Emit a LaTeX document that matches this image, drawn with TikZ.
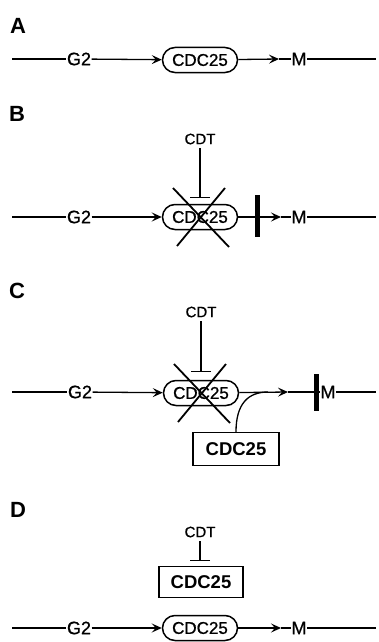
\documentclass[tikz,border=0pt]{standalone}
\usepackage{fontspec}
\setmainfont{Liberation Sans}
\newfontfamily\medf[FakeBold=0.8]{Liberation Sans}
\usetikzlibrary{arrows.meta,calc}
\begin{document}
\begin{tikzpicture}[x=1pt,y=-1pt,
  lbl/.style={font=\fontsize{22}{22}\selectfont\bfseries, inner sep=0pt},
  txt/.style={font=\medf\fontsize{18}{18}\selectfont, inner sep=0.5pt},
  cdt/.style={font=\medf\fontsize{15}{15}\selectfont, inner sep=1pt},
  pill/.style={draw, line width=1.5pt, rounded corners=12.5pt, minimum width=75pt, minimum height=25pt, font=\medf\fontsize{17}{17}\selectfont, inner sep=0pt},
  cbox/.style={draw, line width=1.3pt, minimum width=86pt, minimum height=33pt, font=\fontsize{18.5}{18.5}\selectfont\bfseries, inner sep=0pt},
  ln/.style={line width=1.3pt},
  arr/.style={line width=1.3pt, -{Stealth[length=10pt,width=9pt,inset=4pt]}},
  tb/.style={line width=1.2pt, -{Bar[width=20pt,line width=1.5pt]}},
  xl/.style={line width=1.8pt},
  blk/.style={line width=5pt}
]
\useasboundingbox (0,0) rectangle (378,642);
% ---------- A ----------
\node[lbl] (la) at (18,26) {A};
\coordinate (a0) at (12,59);
\node[txt] (aG) at (79,59) {G2};
\node[pill] (aP) at (200,60) {CDC25};
\coordinate (aT) at (279,59);
\node[txt] (aM) at (299,59) {M};
\coordinate (aE) at (376,59);
\draw[ln] (a0) -- (aG);
\draw[arr] (aG) -- (aP);
\draw[arr] (aP) -- (aT);
\draw[ln] (aT) -- (aM);
\draw[ln] (aM) -- (aE);
% ---------- B ----------
\node[lbl] (lb) at (17,114) {B};
\node[cdt] (bC) at (200,139) {CDT};
\coordinate (bC0) at (200,148);
\coordinate (bTb) at (200,198);
\coordinate (b0) at (12,217);
\node[txt] (bG) at (79,217) {G2};
\node[pill] (bP) at (200,217) {CDC25};
\coordinate (bT) at (281,217);
\node[txt] (bM) at (299,217) {M};
\coordinate (bE) at (376,217);
\coordinate (bBt) at (257,195);
\coordinate (bBb) at (257,237);
\draw[tb] (bC0) -- (bTb);
\draw[ln] (b0) -- (bG);
\draw[arr] (bG) -- (bP);
\draw[arr] (bP) -- (bT);
\draw[ln] (bT) -- (bM);
\draw[ln] (bM) -- (bE);
\draw[xl] ($(bP.center)+(-27,-29)$) -- ($(bP.center)+(29,30)$);
\draw[xl] ($(bP.center)+(25,-29)$) -- ($(bP.center)+(-23,29)$);
\draw[blk] (bBt) -- (bBb);
% ---------- C ----------
\node[lbl] (lc) at (17,291) {C};
\node[cdt] (cC) at (201,312) {CDT};
\coordinate (cC0) at (201,321);
\coordinate (cTb) at (201,372);
\coordinate (c0) at (12,392);
\node[txt] (cG) at (80,392) {G2};
\node[pill] (cP) at (201,393) {CDC25};
\coordinate (cT) at (288,392);
\coordinate (cJ) at (268,392);
\coordinate (cBt) at (316,374);
\coordinate (cBb) at (316,411);
\node[txt] (cM) at (328,392) {M};
\coordinate (cE) at (376,392);
\node[cbox] (cX) at (236,449) {CDC25};
\draw[tb] (cC0) -- (cTb);
\draw[ln] (c0) -- (cG);
\draw[arr] (cG) -- (cP);
\draw[arr] (cP) -- (cT);
\draw[ln] (cT) -- (cM);
\draw[ln] (cM) -- (cE);
\draw[xl] ($(cP.center)+(-27,-29)$) -- ($(cP.center)+(29,30)$);
\draw[xl] ($(cP.center)+(25,-29)$) -- ($(cP.center)+(-23,29)$);
\draw[blk] (cBt) -- (cBb);
\draw[ln] (cX.north) .. controls ($(cX.north)+(0,-28)$) and ($(cJ)+(-20,0)$) .. (cJ);
% ---------- D ----------
\node[lbl] (ld) at (18,510) {D};
\node[cdt] (dC) at (200,532) {CDT};
\coordinate (dC0) at (200,541);
\coordinate (dTb) at (200,561);
\node[cbox, minimum width=84pt, minimum height=31pt] (dX) at (201,582) {CDC25};
\coordinate (d0) at (12,628);
\node[txt] (dG) at (79,628) {G2};
\node[pill] (dP) at (200,628) {CDC25};
\coordinate (dT) at (281,628);
\node[txt] (dM) at (299,628) {M};
\coordinate (dE) at (376,628);
\draw[tb] (dC0) -- (dTb);
\draw[ln] (d0) -- (dG);
\draw[arr] (dG) -- (dP);
\draw[arr] (dP) -- (dT);
\draw[ln] (dT) -- (dM);
\draw[ln] (dM) -- (dE);
\end{tikzpicture}
\end{document}
